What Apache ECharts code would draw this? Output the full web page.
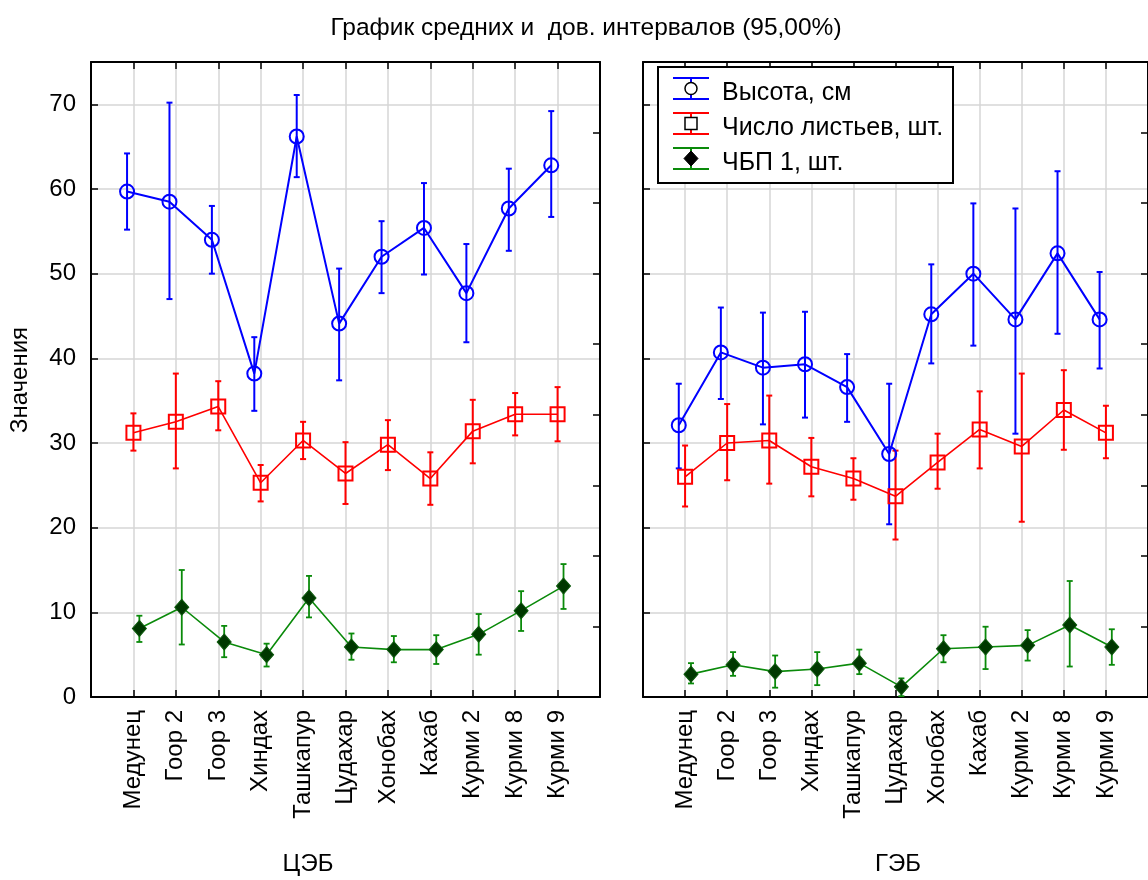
<!DOCTYPE html>
<html>
<head>
<meta charset="utf-8">
<script src="https://cdn.jsdelivr.net/npm/echarts@6/dist/echarts.min.js"></script>
<style>
  html, body { margin: 0; padding: 0; background: #fff; }
  #chart { width: 1148px; height: 880px; }
</style>
</head>
<body>
<div id="chart"></div>
<script>
// Sites (categories) shared by both panels
const sites = ['Медунец', 'Гоор 2', 'Гоор 3', 'Хиндах', 'Ташкапур', 'Цудахар', 'Хонобах', 'Кахаб', 'Курми 2', 'Курми 8', 'Курми 9'];
const groups = ['ЦЭБ', 'ГЭБ'];
const seriesNames = ['Высота, см', 'Число листьев, шт.', 'ЧБП 1, шт.'];
const yTicks = [0, 10, 20, 30, 40, 50, 60, 70];
const titleText = 'График средних и  дов. интервалов (95,00%)';
const yName = 'Значения';

// ЦЭБ: means and 95% confidence limits
const heightMeanC = [59.7, 58.5, 54.0, 38.2, 66.2, 44.1, 52.0, 55.4, 47.7, 57.7, 62.8];
const heightLowC  = [55.2, 47.0, 50.0, 33.8, 61.4, 37.4, 47.7, 49.9, 41.9, 52.7, 56.7];
const heightHighC = [64.2, 70.2, 58.0, 42.5, 71.1, 50.6, 56.2, 60.7, 53.5, 62.4, 69.2];

const leavesMeanC = [31.2, 32.5, 34.3, 25.3, 30.3, 26.4, 29.8, 25.8, 31.4, 33.4, 33.4];
const leavesLowC  = [29.1, 27.0, 31.5, 23.1, 28.1, 22.8, 26.8, 22.7, 27.6, 30.9, 30.2];
const leavesHighC = [33.5, 38.2, 37.3, 27.4, 32.5, 30.1, 32.7, 28.9, 35.1, 35.9, 36.6];

const chbpMeanC = [8.1, 10.6, 6.5, 5.0, 11.7, 5.9, 5.6, 5.6, 7.4, 10.2, 13.1];
const chbpLowC  = [6.5, 6.2, 4.7, 3.6, 9.4, 4.4, 4.1, 3.9, 5.0, 7.8, 10.4];
const chbpHighC = [9.6, 15.0, 8.4, 6.3, 14.3, 7.5, 7.2, 7.3, 9.8, 12.5, 15.7];

// ГЭБ: means and 95% confidence limits
const heightMeanG = [32.1, 40.7, 38.9, 39.3, 36.6, 28.7, 45.2, 50.0, 44.6, 52.4, 44.6];
const heightLowG  = [27.0, 35.2, 32.2, 33.0, 32.5, 20.4, 39.4, 41.5, 31.1, 42.9, 38.8];
const heightHighG = [37.0, 46.0, 45.4, 45.5, 40.5, 37.0, 51.1, 58.3, 57.7, 62.1, 50.2];

const leavesMeanG = [26.0, 30.0, 30.3, 27.2, 25.8, 23.7, 27.7, 31.6, 29.6, 33.9, 31.2];
const leavesLowG  = [22.5, 25.6, 25.2, 23.7, 23.3, 18.6, 24.6, 27.0, 20.7, 29.2, 28.2];
const leavesHighG = [29.7, 34.6, 35.6, 30.6, 28.2, 29.1, 31.1, 36.1, 38.2, 38.6, 34.4];

const chbpMeanG = [2.7, 3.8, 3.0, 3.3, 4.0, 1.2, 5.7, 5.9, 6.1, 8.5, 5.9];
const chbpLowG  = [1.6, 2.5, 1.1, 1.4, 2.7, 0.1, 4.1, 3.3, 4.3, 3.6, 3.8];
const chbpHighG = [4.0, 5.3, 4.9, 5.3, 5.6, 2.2, 7.3, 8.3, 7.9, 13.7, 8.0];

const FONT = '"Liberation Sans", Arial, sans-serif';
const BLUE = '#0000ff', RED = '#ff0000', GREEN = '#0a8a0a', DARKGREEN = '#003800';

// per-panel data sets
const panels = [
  { mean: [heightMeanC, leavesMeanC, chbpMeanC], low: [heightLowC, leavesLowC, chbpLowC], high: [heightHighC, leavesHighC, chbpHighC] },
  { mean: [heightMeanG, leavesMeanG, chbpMeanG], low: [heightLowG, leavesLowG, chbpLowG], high: [heightHighG, leavesHighG, chbpHighG] }
];

// look of each variable: horizontal shift within a category slot, marker, colours
const looks = [
  { shift: -0.15, color: BLUE, symbol: 'circle', size: 14, fill: 'transparent', border: BLUE, borderW: 2, lineW: 2, barW: 2 },
  { shift: 0, color: RED, symbol: 'rect', size: 14, fill: 'transparent', border: RED, borderW: 2, lineW: 1.6, barW: 2 },
  { shift: 0.14, color: GREEN, symbol: 'diamond', size: [14, 16], fill: DARKGREEN, border: '#0b5a0b', borderW: 1, lineW: 1.6, barW: 1.8 }
];

const grids = [
  { left: 91, top: 62, width: 509, height: 635 },
  { left: 643, top: 62, width: 509, height: 635 }
];

const xAxes = [], yAxes = [], series = [];
const gridLine = { show: true, lineStyle: { color: '#d6d6d6', width: 1.5 } };
const frame = { show: true, onZero: false, lineStyle: { color: '#000', width: 2 } };
const inTick = { show: true, inside: true, length: 7, lineStyle: { color: '#000', width: 1.5 } };

groups.forEach((g, gi) => {
  // bottom category axis (slots 1..11 on a 0..12 scale)
  xAxes.push({
    type: 'value', gridIndex: gi, position: 'bottom', min: 0, max: 12, interval: 1,
    axisLine: frame, axisTick: inTick, splitLine: gridLine,
    axisLabel: {
      show: true, rotate: 90, margin: 13, color: '#000', fontSize: 24, fontFamily: FONT,
      formatter: v => sites[v - 1] || ''
    }
  });
  // top frame with ticks
  xAxes.push({
    type: 'value', gridIndex: gi, position: 'top', min: 0, max: 12, interval: 1,
    axisLine: frame, axisTick: inTick, splitLine: { show: false }, axisLabel: { show: false }
  });
  // left value axis
  yAxes.push({
    type: 'value', gridIndex: gi, position: 'left', min: 0, max: 75, interval: 10,
    axisLine: frame, axisTick: inTick, splitLine: gridLine,
    axisLabel: {
      show: gi === 0, margin: 15, color: '#000', fontSize: 24, fontFamily: FONT,
      formatter: v => (yTicks.indexOf(v) >= 0 ? String(v) : '')
    }
  });
  // right frame with its own tick spacing
  yAxes.push({
    type: 'value', gridIndex: gi, position: 'right', min: 0, max: 9, interval: 1,
    axisLine: frame, axisTick: inTick, splitLine: { show: false }, axisLabel: { show: false }
  });

  const p = panels[gi];
  looks.forEach((lk, si) => {
    const xs = sites.map((_, i) => i + 1 + lk.shift);
    // confidence interval whiskers
    series.push({
      type: 'custom', name: seriesNames[si], xAxisIndex: gi * 2, yAxisIndex: gi * 2,
      itemStyle: { color: lk.color }, z: 2 + si,
      encode: { x: 0, y: [1, 2] },
      data: xs.map((x, i) => [x, p.low[si][i], p.high[si][i]]),
      renderItem: (params, api) => {
        const x = api.value(0);
        const lo = api.coord([x, api.value(1)]);
        const hi = api.coord([x, api.value(2)]);
        const cap = 3;
        const style = { stroke: lk.color, lineWidth: lk.barW, fill: null };
        return {
          type: 'group',
          children: [
            { type: 'line', shape: { x1: lo[0], y1: lo[1], x2: hi[0], y2: hi[1] }, style },
            { type: 'line', shape: { x1: lo[0] - cap, y1: lo[1], x2: lo[0] + cap, y2: lo[1] }, style },
            { type: 'line', shape: { x1: hi[0] - cap, y1: hi[1], x2: hi[0] + cap, y2: hi[1] }, style }
          ]
        };
      }
    });
    // means joined by a line
    series.push({
      type: 'line', name: seriesNames[si], xAxisIndex: gi * 2, yAxisIndex: gi * 2,
      z: 3 + si, symbol: lk.symbol, symbolSize: lk.size, showAllSymbol: true,
      lineStyle: { color: lk.color, width: lk.lineW },
      itemStyle: { color: lk.fill, borderColor: lk.border, borderWidth: lk.borderW, opacity: 1 },
      emphasis: { disabled: true },
      data: xs.map((x, i) => [x, p.mean[si][i]])
    });
  });
});

// legend drawn as a framed box with whisker icons
const legendX = 658, legendY = 67, rowH = 35;
const legendItems = [];
legendItems.push({ type: 'rect', shape: { x: legendX, y: legendY, width: 295, height: 116 },
  style: { fill: '#fff', stroke: '#000', lineWidth: 2 }, z: 50 });
looks.forEach((lk, si) => {
  const cy = legendY + 21.5 + si * rowH;
  const ix = 691;
  legendItems.push(
    { type: 'line', shape: { x1: 673, y1: cy - 10.5, x2: 709, y2: cy - 10.5 }, style: { stroke: lk.color, lineWidth: 2 }, z: 51 },
    { type: 'line', shape: { x1: 673, y1: cy + 10.5, x2: 709, y2: cy + 10.5 }, style: { stroke: lk.color, lineWidth: 2 }, z: 51 },
    { type: 'line', shape: { x1: ix, y1: cy - 10.5, x2: ix, y2: cy + 10.5 }, style: { stroke: lk.color, lineWidth: 2 }, z: 51 }
  );
  if (si === 0) {
    legendItems.push({ type: 'circle', shape: { cx: ix, cy: cy, r: 6 }, style: { fill: '#fff', stroke: '#000', lineWidth: 1.5 }, z: 52 });
  } else if (si === 1) {
    legendItems.push({ type: 'rect', shape: { x: ix - 6, y: cy - 6, width: 12, height: 12 }, style: { fill: '#fff', stroke: '#000', lineWidth: 1.5 }, z: 52 });
  } else {
    legendItems.push({ type: 'polygon', shape: { points: [[ix, cy - 7.5], [ix + 7, cy], [ix, cy + 7.5], [ix - 7, cy]] }, style: { fill: '#000', stroke: '#000', lineWidth: 1 }, z: 52 });
  }
  legendItems.push({ type: 'text', x: 722, y: cy + 5, z: 52,
    style: { text: seriesNames[si], fill: '#000', fontSize: 25, fontFamily: FONT, align: 'left', verticalAlign: 'middle' } });
});

const texts = [
  { type: 'text', x: 586, y: 28, style: { text: titleText, fill: '#000', fontSize: 24.5, fontFamily: FONT, align: 'center', verticalAlign: 'middle' } },
  { type: 'text', x: 20, y: 380, rotation: Math.PI / 2, style: { text: yName, fill: '#000', fontSize: 24, fontFamily: FONT, align: 'center', verticalAlign: 'middle' } },
  { type: 'text', x: 308, y: 864, style: { text: groups[0], fill: '#000', fontSize: 24, fontFamily: FONT, align: 'center', verticalAlign: 'middle' } },
  { type: 'text', x: 898, y: 864, style: { text: groups[1], fill: '#000', fontSize: 24, fontFamily: FONT, align: 'center', verticalAlign: 'middle' } }
];

const chart = echarts.init(document.getElementById('chart'), null, { renderer: 'canvas' });
chart.setOption({
  backgroundColor: '#fff',
  animation: false,
  grid: grids,
  xAxis: xAxes,
  yAxis: yAxes,
  series: series,
  graphic: texts.concat(legendItems)
});
</script>
</body>
</html>
